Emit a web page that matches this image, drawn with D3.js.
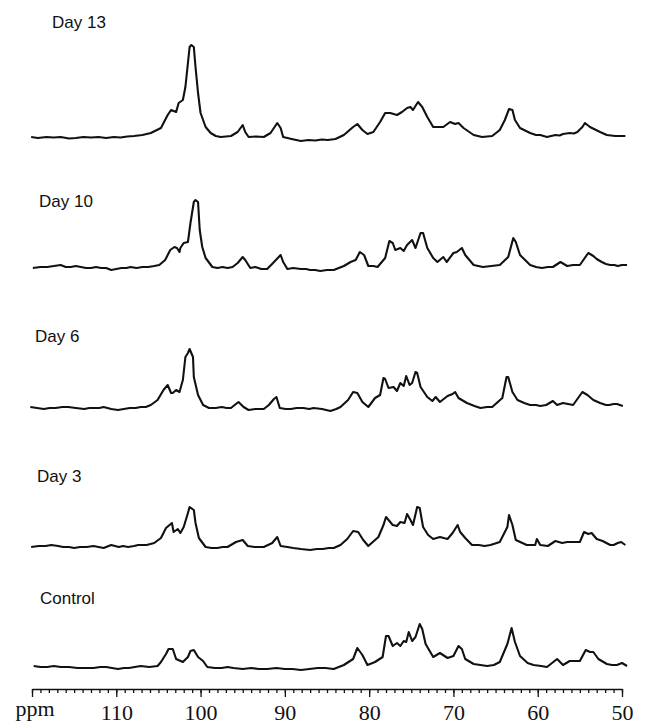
<!DOCTYPE html>
<html>
<head>
<meta charset="utf-8">
<script src="https://cdn.jsdelivr.net/npm/d3@7"></script>
<style>
  body { margin: 0; background: #fff; }
  .label { font-family: "Liberation Sans", Arial, sans-serif; font-size: 17px; fill: #111; }
  .axis text { font-family: "Liberation Serif", "Times New Roman", serif; font-size: 22px; fill: #111; }
  .axis path, .axis line { stroke: #111; stroke-width: 1.3; }
</style>
</head>
<body>
<div id="chart"></div>
<script>
// spectra: [ppm, intensity (a.u.)]
const day13 = [
  [120.1,1],[119.3,0],[118.3,1],[117.4,0.5],[116.6,1],[115.6,-0.5],[114.8,0],[113.9,1],[113.0,0.5],[112.1,1],
  [111.2,0],[110.3,1],[109.5,0.5],[108.7,1.5],[107.9,2],[106.9,3],[105.9,5],[104.7,10],[103.9,23],[103.5,28],
  [102.9,26],[102.6,35],[102.1,38],[101.8,51],[101.5,75],[101.3,91],[101.1,93],[100.8,91],[100.6,71],[100.3,45],
  [100.0,25],[99.4,11],[98.8,5],[98.2,2],[97.6,1],[97.0,1.5],[96.4,2],[95.6,6],[95.0,13],[94.7,6],
  [94.3,1],[93.4,1.5],[92.5,1],[91.7,5],[90.9,15],[90.5,10],[90.2,1],[89.2,-1],[88.1,-3],[87.2,-2],
  [86.4,-2.5],[85.6,-1.5],[84.9,-2],[84.0,-1],[83.0,3],[81.9,11],[81.4,14],[80.8,8],[80.2,4],[79.5,6],
  [78.7,16],[78.1,25],[77.5,25],[77.1,24],[76.7,23],[76.1,26],[75.5,30],[75.1,31],[74.8,28],[74.2,36],
  [73.7,31],[73.1,21],[72.4,11],[71.8,11],[71.2,11],[70.4,16],[69.8,14],[69.4,15],[68.8,10],[67.6,3],
  [66.6,1],[65.4,2],[64.5,8],[63.9,18],[63.4,29],[63.0,28],[62.7,18],[62.1,10],[60.9,5],[60.2,3],
  [59.7,3],[58.9,1],[57.9,3],[57.4,2.5],[57.0,4],[56.2,5],[55.7,4.5],[55.3,6],[54.7,11],[54.4,15],
  [53.8,11],[52.6,6],[51.8,3],[50.8,2],[49.6,2]
];
const day10 = [
  [119.9,0],[119.0,1],[118.2,1],[117.4,2],[116.6,3],[116.0,1],[115.4,1],[114.8,2],[114.2,1],[113.6,0],
  [113.0,0],[112.4,1],[111.8,0],[111.2,0],[110.6,-2],[110.0,-1],[109.4,0],[108.8,0],[108.3,1],[107.6,0],
  [106.9,1],[106.2,1],[105.5,2],[104.9,3],[104.2,8],[103.6,18],[103.1,21],[102.8,20],[102.5,16],[102.4,20],
  [102.0,25],[101.5,26],[101.2,45],[100.8,66],[100.6,68],[100.3,66],[100.1,38],[99.8,21],[99.4,10],[98.6,1],
  [98.0,0],[97.4,1],[96.8,0],[96.2,1],[95.6,5],[95.0,11],[94.7,8],[94.1,0],[93.5,1],[92.8,-1],
  [92.1,-1],[91.4,5],[90.5,13],[90.2,6],[89.7,-1],[89.0,0],[88.1,-1],[87.5,-1],[87.0,-2],[86.4,-2],
  [85.8,-3],[85.0,-2],[84.2,-2],[83.6,0],[83.0,2],[82.2,6],[81.6,8],[81.1,16],[80.6,13],[80.1,2],
  [79.5,2],[79.0,1],[78.1,10],[77.6,27],[77.2,25],[76.9,18],[76.3,20],[75.9,17],[75.5,23],[74.9,28],
  [74.5,20],[73.9,35],[73.6,35],[73.1,20],[72.4,10],[71.9,6],[71.2,11],[70.8,6],[70.0,15],[69.6,16],
  [69.0,20],[68.6,13],[67.6,3],[66.5,1],[65.5,2],[64.5,3],[63.5,11],[62.9,30],[62.6,26],[62.1,13],
  [60.9,3],[60.2,1],[59.5,0],[58.8,1],[58.2,1],[57.3,6],[56.5,2],[55.8,3],[55.0,3],[54.0,15],
  [53.4,12],[53.0,9],[52.4,6],[51.9,4],[51.4,3],[50.9,3],[50.5,2],[50.0,3],[49.4,3]
];
const day6 = [
  [120.2,1],[119.4,0],[118.6,-1],[117.9,0],[117.2,0],[116.4,1],[115.7,1],[114.8,0],[113.8,-1],[113.2,0],
  [112.6,0],[112.0,0],[111.5,1],[110.6,-1],[109.8,-2],[109.1,-1],[108.4,0],[107.7,0],[107.1,1],[106.5,1],
  [105.9,3],[105.1,8],[104.4,18],[103.9,23],[103.5,15],[103.3,15],[102.9,18],[102.5,16],[102.1,28],[101.8,51],
  [101.5,55],[101.3,59],[100.9,51],[100.8,31],[100.3,13],[99.7,3],[99.0,0],[98.2,0],[97.5,1],[96.9,0],
  [96.4,0],[95.8,4],[95.5,6],[94.9,1],[94.3,-2],[93.5,-1],[92.5,-1],[91.9,3],[91.3,9],[91.0,11],
  [90.6,0],[89.9,-1],[89.3,-1],[88.6,0],[87.8,0],[87.1,-1],[86.6,0],[85.6,-1],[84.6,-3],[83.9,-1],
  [83.4,1],[82.5,8],[81.9,16],[81.4,15],[80.8,6],[80.1,1],[79.3,10],[78.7,13],[78.3,30],[78.1,29],
  [77.7,20],[77.1,21],[76.7,17],[76.3,25],[75.9,22],[75.6,32],[75.2,23],[74.9,25],[74.5,36],[74.3,35],
  [73.9,21],[73.1,11],[72.5,7],[72.1,11],[71.6,6],[70.7,12],[70.1,14],[69.8,16],[69.4,10],[68.4,5],
  [67.5,2],[66.8,0],[66.0,1],[65.4,1],[64.2,10],[63.7,31],[63.5,31],[63.0,16],[62.4,8],[61.6,5],
  [60.9,3],[60.2,3],[59.7,2],[59.0,3],[58.2,7],[57.7,3],[57.0,5],[56.4,4],[55.8,3],[54.7,16],
  [54.1,13],[53.4,8],[52.6,5],[51.9,3],[51.5,3],[51.0,4],[50.6,4],[49.9,2]
];
const day3 = [
  [120.1,1],[119.2,2],[118.4,2],[117.7,3],[116.9,2],[116.3,1],[115.6,1],[115.0,0],[114.3,1],[113.5,1],
  [112.7,2],[112.1,1],[111.5,0],[110.6,3],[109.7,1],[109.2,2],[108.6,1],[107.9,2],[107.4,3],[106.4,3],
  [105.5,5],[104.7,10],[104.1,20],[103.4,25],[103.2,16],[102.7,19],[102.4,15],[102.0,21],[101.5,35],[101.3,41],
  [100.8,38],[100.6,25],[100.2,10],[99.4,1],[98.7,0],[98.0,0],[97.4,1],[96.8,1],[95.8,6],[95.0,8],
  [94.4,2],[93.6,1],[92.5,1],[91.5,5],[90.9,11],[90.5,2],[89.7,1],[89.0,0],[88.1,-1],[87.0,-2],
  [86.2,-1],[85.5,-1],[84.8,0],[84.2,0],[83.4,3],[82.6,9],[81.9,17],[81.3,16],[80.7,8],[80.1,2],
  [78.9,11],[78.3,23],[78.0,31],[77.7,28],[77.2,23],[76.7,22],[76.3,26],[75.8,25],[75.5,34],[75.1,28],
  [74.8,23],[74.3,41],[74.0,40],[73.6,21],[73.0,13],[72.4,9],[71.6,11],[70.7,9],[70.1,15],[69.5,23],
  [69.2,16],[68.6,10],[67.8,3],[67.0,3],[66.3,2],[65.6,3],[64.5,6],[63.6,21],[63.4,33],[63.0,23],
  [62.6,8],[61.3,3],[60.8,3],[60.3,3],[60.1,9],[59.7,3],[58.8,2],[57.9,7],[57.1,5],[56.5,6],
  [55.7,6],[55.0,6],[54.5,16],[54.0,14],[53.6,15],[53.0,9],[52.3,7],[51.4,3],[51.0,3],[50.5,5],
  [50.1,6],[49.6,3]
];
const control = [
  [119.8,2],[119.0,1],[118.2,1],[117.4,2],[116.6,1],[115.6,1],[114.6,0],[113.7,0],[112.7,0],[111.9,1],
  [111.2,1],[110.5,0],[109.8,-1],[109.1,0],[108.5,0],[107.8,1],[107.1,2],[106.1,1],[105.1,2],[104.7,6],
  [104.1,14],[103.8,19],[103.3,19],[102.9,9],[102.1,6],[101.5,11],[101.2,17],[100.8,18],[100.3,11],[99.7,7],
  [99.2,1],[98.3,0],[97.5,0],[96.8,1],[96.1,0],[95.0,-1],[94.0,0],[93.1,-1],[92.1,-1],[91.0,0],
  [90.0,-1],[89.1,-1],[88.1,-2],[87.1,-1],[86.1,0],[85.2,0],[84.2,-1],[83.0,3],[81.9,9],[81.4,20],
  [80.8,13],[80.2,3],[79.3,6],[78.4,11],[78.0,32],[77.7,32],[77.2,22],[76.7,25],[76.3,22],[75.9,27],
  [75.6,26],[75.3,36],[74.9,27],[74.5,31],[74.0,44],[73.7,39],[73.3,24],[72.4,11],[71.6,15],[70.7,10],
  [70.0,12],[69.4,22],[69.0,19],[68.6,9],[67.6,4],[66.8,3],[66.0,2],[65.2,3],[64.5,6],[63.6,24],
  [63.1,40],[62.7,26],[62.1,12],[61.2,5],[60.5,3],[59.6,2],[58.9,1],[57.7,9],[57.0,3],[56.2,7],
  [55.6,7],[55.0,7],[54.3,18],[53.8,16],[53.4,16],[52.8,9],[51.8,4],[51.2,3],[50.6,3],[50.0,5],
  [49.4,2]
];

const labels = ["Day 13", "Day 10", "Day 6", "Day 3", "Control"];
const spectra = [day13, day10, day6, day3, control];
const majorTicks = [120, 110, 100, 90, 80, 70, 60, 50];
const tickLabels = ["", "110", "100", "90", "80", "70", "60", "50"];

// layout of the stacked traces (baseline y, label position)
const layout = [
  {base: 138, lx: 52, ly: 28},
  {base: 268, lx: 39, ly: 207},
  {base: 408, lx: 35, ly: 342},
  {base: 548, lx: 37, ly: 482},
  {base: 668, lx: 40, ly: 604}
];

const width = 657, height = 725;
const axisY = 689;

const svg = d3.select("#chart").append("svg")
    .attr("width", width)
    .attr("height", height);

const x = d3.scaleLinear().domain([120, 50]).range([32, 622]);
const y = d3.scaleLinear().domain([0, 100]).range([0, -100]);

const line = d3.line()
    .x(d => x(d[0]))
    .y(d => y(d[1]));

const traces = svg.append("g")
    .selectAll("g")
    .data(spectra)
    .join("g")
    .attr("transform", (d, i) => "translate(0," + layout[i].base + ")");

traces.append("path")
    .attr("d", line)
    .attr("fill", "none")
    .attr("stroke", "#111")
    .attr("stroke-width", 2.1)
    .attr("stroke-linejoin", "round");

svg.append("g")
    .selectAll("text")
    .data(labels)
    .join("text")
    .attr("class", "label")
    .attr("x", (d, i) => layout[i].lx)
    .attr("y", (d, i) => layout[i].ly)
    .text(d => d);

// minor ticks every 1 ppm
svg.append("g")
    .attr("class", "axis")
    .attr("transform", "translate(0," + axisY + ")")
    .call(d3.axisBottom(x)
        .tickValues(d3.range(50, 121, 1))
        .tickSize(4)
        .tickSizeOuter(0)
        .tickFormat(""));

// major ticks every 10 ppm
const major = svg.append("g")
    .attr("class", "axis")
    .attr("transform", "translate(0," + axisY + ")")
    .call(d3.axisBottom(x)
        .tickValues(majorTicks)
        .tickSize(8)
        .tickSizeOuter(0)
        .tickPadding(7)
        .tickFormat((d, i) => tickLabels[i]));
major.select(".domain").remove();

svg.append("text")
    .attr("x", 35)
    .attr("y", 716)
    .attr("text-anchor", "middle")
    .style("font-family", "'Liberation Serif', 'Times New Roman', serif")
    .style("font-size", "22px")
    .attr("fill", "#111")
    .text("ppm");
</script>
</body>
</html>
